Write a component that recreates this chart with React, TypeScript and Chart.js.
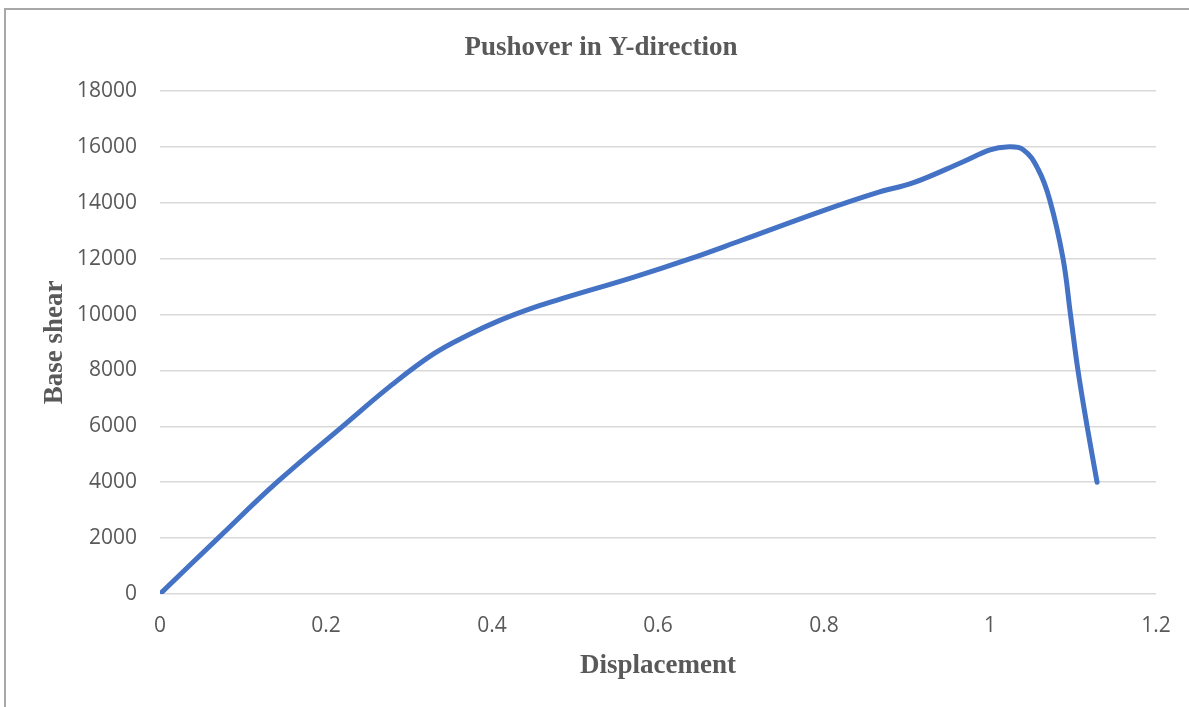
import React, { useEffect, useRef } from "react";
import { Chart, registerables } from "chart.js";

Chart.register(...registerables);

const chartTitle = "Pushover in Y-direction";
const xTitle = "Displacement";
const yTitle = "Base shear";

const displacement = [0, 0.07, 0.141, 0.22, 0.28, 0.33, 0.37, 0.41, 0.45, 0.49, 0.57, 0.639, 0.7, 0.8, 0.867, 0.907, 0.967, 1.0, 1.02, 1.04, 1.058, 1.072, 1.088, 1.097, 1.106, 1.117, 1.129];
const baseShear = [0, 2000, 4000, 6000, 7500, 8600, 9250, 9800, 10250, 10620, 11330, 12000, 12650, 13730, 14390, 14710, 15460, 15890, 16000, 15900, 15200, 14100, 12000, 10000, 8000, 6000, 4000];

const xMin = 0;
const xMax = 1.2;
const xStep = 0.2;
const yMin = 0;
const yMax = 18000;
const yStep = 2000;

const textColor = "#595959";
const gridColor = "#d9d9d9";
const lineColor = "#4472C4";

export default function App() {
  const canvasRef = useRef<HTMLCanvasElement | null>(null);

  useEffect(() => {
    const canvas = canvasRef.current;
    if (!canvas) return;
    const points = displacement.map((x, i) => ({ x, y: baseShear[i] }));
    const chart = new Chart(canvas, {
      type: "line",
      data: {
        datasets: [
          {
            data: points,
            borderColor: lineColor,
            backgroundColor: lineColor,
            borderWidth: 5,
            pointRadius: 0,
            tension: 0.4,
            borderCapStyle: "round",
            borderJoinStyle: "round",
            fill: false,
          },
        ],
      },
      options: {
        responsive: false,
        animation: false,
        layout: { padding: 0 },
        plugins: {
          legend: { display: false },
          tooltip: { enabled: false },
          title: {
            display: true,
            text: chartTitle,
            color: textColor,
            font: { family: "'Liberation Serif', serif", size: 27, weight: "bold" },
            padding: { top: 32, bottom: 26.6 },
          },
        },
        scales: {
          x: {
            type: "linear",
            min: xMin,
            max: xMax,
            afterFit: (scale: any) => {
              scale.height = 113;
              scale.paddingRight = 46;
            },
            ticks: {
              stepSize: xStep,
              color: textColor,
              padding: 19,
              font: { family: "'Open Sans', sans-serif", size: 21 },
              maxRotation: 0,
              callback: (v: any) => String(Math.round(Number(v) * 10) / 10),
            },
            grid: { display: false, drawTicks: false },
            border: { display: false },
            title: {
              display: true,
              text: xTitle,
              color: textColor,
              font: { family: "'Liberation Serif', serif", size: 27, weight: "bold" },
              padding: { top: 0, bottom: 25 },
            },
          },
          y: {
            type: "linear",
            min: yMin,
            max: yMax,
            afterFit: (scale: any) => {
              scale.width = 160;
            },
            ticks: {
              stepSize: yStep,
              color: textColor,
              padding: 23,
              font: { family: "'Open Sans', sans-serif", size: 21 },
              callback: (v: any) => String(v),
            },
            grid: { color: gridColor, lineWidth: 1.5, drawTicks: false },
            border: { display: false },
            title: {
              display: true,
              text: yTitle,
              color: textColor,
              font: { family: "'Liberation Serif', serif", size: 27, weight: "bold" },
              padding: { top: 39, bottom: 0 },
            },
          },
        },
      },
    });
    return () => chart.destroy();
  }, []);

  return (
    <div style={{ position: "fixed", left: 0, top: 0, width: 1189, height: 707, background: "#fff", overflow: "hidden" }}>
      <div
        style={{
          position: "absolute",
          left: 4,
          top: 8,
          width: 1300,
          height: 800,
          borderLeft: "2px solid #a8a8a8",
          borderTop: "2px solid #a8a8a8",
        }}
      />
      <canvas ref={canvasRef} width={1202} height={707} style={{ position: "absolute", left: 0, top: 0 }} />
    </div>
  );
}
